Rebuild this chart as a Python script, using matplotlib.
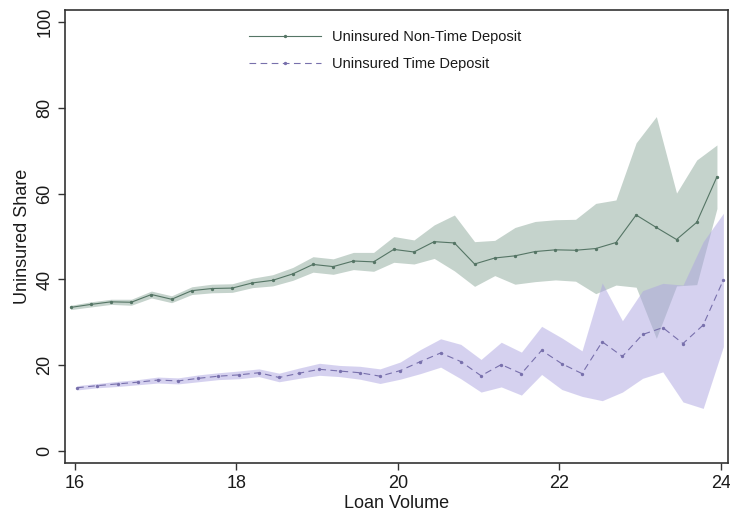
import matplotlib

matplotlib.use("Agg")
import matplotlib.pyplot as plt

plt.rcParams["font.family"] = ["Liberation Sans", "DejaVu Sans"]

# Uninsured non-time deposit share: bin centres, mean and 95% band
ntd_x = [15.95, 16.20, 16.45, 16.70, 16.95, 17.20, 17.45, 17.70, 17.95, 18.20,
         18.45, 18.70, 18.95, 19.20, 19.45, 19.70, 19.95, 20.20, 20.45, 20.70,
         20.95, 21.20, 21.45, 21.70, 21.95, 22.20, 22.45, 22.70, 22.95, 23.20,
         23.45, 23.70, 23.95]
ntd_mean = [33.5, 34.2, 34.8, 34.7, 36.5, 35.4, 37.4, 37.9, 38.0, 39.2,
            39.8, 41.3, 43.5, 43.0, 44.3, 44.1, 47.0, 46.4, 48.8, 48.5,
            43.6, 45.0, 45.5, 46.5, 46.9, 46.8, 47.2, 48.6, 55.0, 52.1,
            49.3, 53.3, 63.9]
ntd_lo = [33.0, 33.6, 34.2, 34.0, 35.7, 34.6, 36.5, 36.9, 37.0, 38.1,
          38.5, 39.8, 41.7, 41.2, 42.3, 41.9, 44.0, 43.6, 44.9, 42.0,
          38.4, 40.9, 38.9, 39.5, 39.9, 39.6, 36.7, 38.7, 38.2, 26.3,
          38.5, 38.8, 56.5]
ntd_hi = [34.0, 34.8, 35.4, 35.4, 37.3, 36.2, 38.3, 38.9, 39.0, 40.3,
          41.1, 42.8, 45.3, 44.8, 46.3, 46.3, 50.0, 49.2, 52.7, 55.0,
          48.8, 49.1, 52.1, 53.5, 53.9, 54.0, 57.7, 58.5, 71.8, 77.9,
          60.1, 67.8, 71.3]

# Uninsured time deposit share
td_x = [16.03, 16.28, 16.53, 16.78, 17.03, 17.28, 17.53, 17.78, 18.03, 18.28,
        18.53, 18.78, 19.03, 19.28, 19.53, 19.78, 20.03, 20.28, 20.53, 20.78,
        21.03, 21.28, 21.53, 21.78, 22.03, 22.28, 22.53, 22.78, 23.03, 23.28,
        23.53, 23.78, 24.03]
td_mean = [14.8, 15.3, 15.7, 16.1, 16.6, 16.4, 17.0, 17.5, 17.8, 18.3,
           17.2, 18.2, 19.1, 18.7, 18.3, 17.5, 18.8, 20.9, 22.9, 20.9,
           17.6, 20.2, 18.1, 23.5, 20.4, 18.1, 25.5, 22.1, 27.2, 28.8,
           25.1, 29.4, 39.9]
td_lo = [14.3, 14.8, 15.1, 15.5, 15.9, 15.7, 16.2, 16.7, 16.9, 17.4,
         16.2, 17.0, 17.7, 17.4, 16.8, 15.8, 16.8, 18.1, 19.6, 16.9,
         13.8, 15.0, 13.1, 17.9, 14.4, 12.8, 11.8, 13.8, 17.0, 18.5,
         11.5, 10.0, 24.4]
td_hi = [15.3, 15.8, 16.3, 16.7, 17.3, 17.1, 17.8, 18.3, 18.7, 19.2,
         18.2, 19.4, 20.5, 20.0, 19.8, 19.2, 20.8, 23.7, 26.2, 24.9,
         21.4, 25.4, 23.1, 29.1, 26.4, 23.4, 39.2, 30.4, 37.4, 39.1,
         38.7, 48.8, 55.4]

x_ticks = [16, 18, 20, 22, 24]
y_ticks = [0, 20, 40, 60, 80, 100]

GREEN_FILL = "#c5d3cc"
GREEN_LINE = "#557565"
PURPLE_FILL = "#ada5e1"
PURPLE_LINE = "#7870ac"
FRAME = "#333333"

fig = plt.figure(figsize=(7.30, 5.19), dpi=100)
ax = fig.add_axes([65 / 730, 1 - 463 / 519, 663 / 730, 453 / 519])

ax.fill_between(ntd_x, ntd_lo, ntd_hi, color=GREEN_FILL, linewidth=0)
ax.fill_between(td_x, td_lo, td_hi, color=PURPLE_FILL, alpha=0.5, linewidth=0)

ax.plot(ntd_x, ntd_mean, color=GREEN_LINE, linewidth=0.8, marker="o",
        markersize=1.4, label="Uninsured Non-Time Deposit")
ax.plot(td_x, td_mean, color=PURPLE_LINE, linewidth=0.8, linestyle=(0, (6, 4)),
        marker="o", markersize=1.4, label="Uninsured Time Deposit")

ax.set_xlim(15.88, 24.087)
ax.set_ylim(-2.7, 102.7)
ax.set_xticks(x_ticks)
ax.set_yticks(y_ticks)
ax.tick_params(direction="out", length=5, width=1, colors=FRAME,
               labelsize=13, labelcolor="#1a1a1a")
for label in ax.get_yticklabels():
    label.set_rotation(90)
    label.set_va("center")
for side in ax.spines.values():
    side.set_color(FRAME)
    side.set_linewidth(1.2)

ax.set_xlabel("Loan Volume", fontsize=13, color="#1a1a1a", labelpad=2.5)
ax.set_ylabel("Uninsured Share", fontsize=13, color="#1a1a1a", labelpad=4)

ax.legend(loc="upper left", bbox_to_anchor=(0.257, 0.985), frameon=False,
          fontsize=10.5, handlelength=4.95, labelspacing=0.9,
          labelcolor="#1a1a1a")

fig.savefig("out.png", dpi=100, facecolor="white")
plt.close(fig)
